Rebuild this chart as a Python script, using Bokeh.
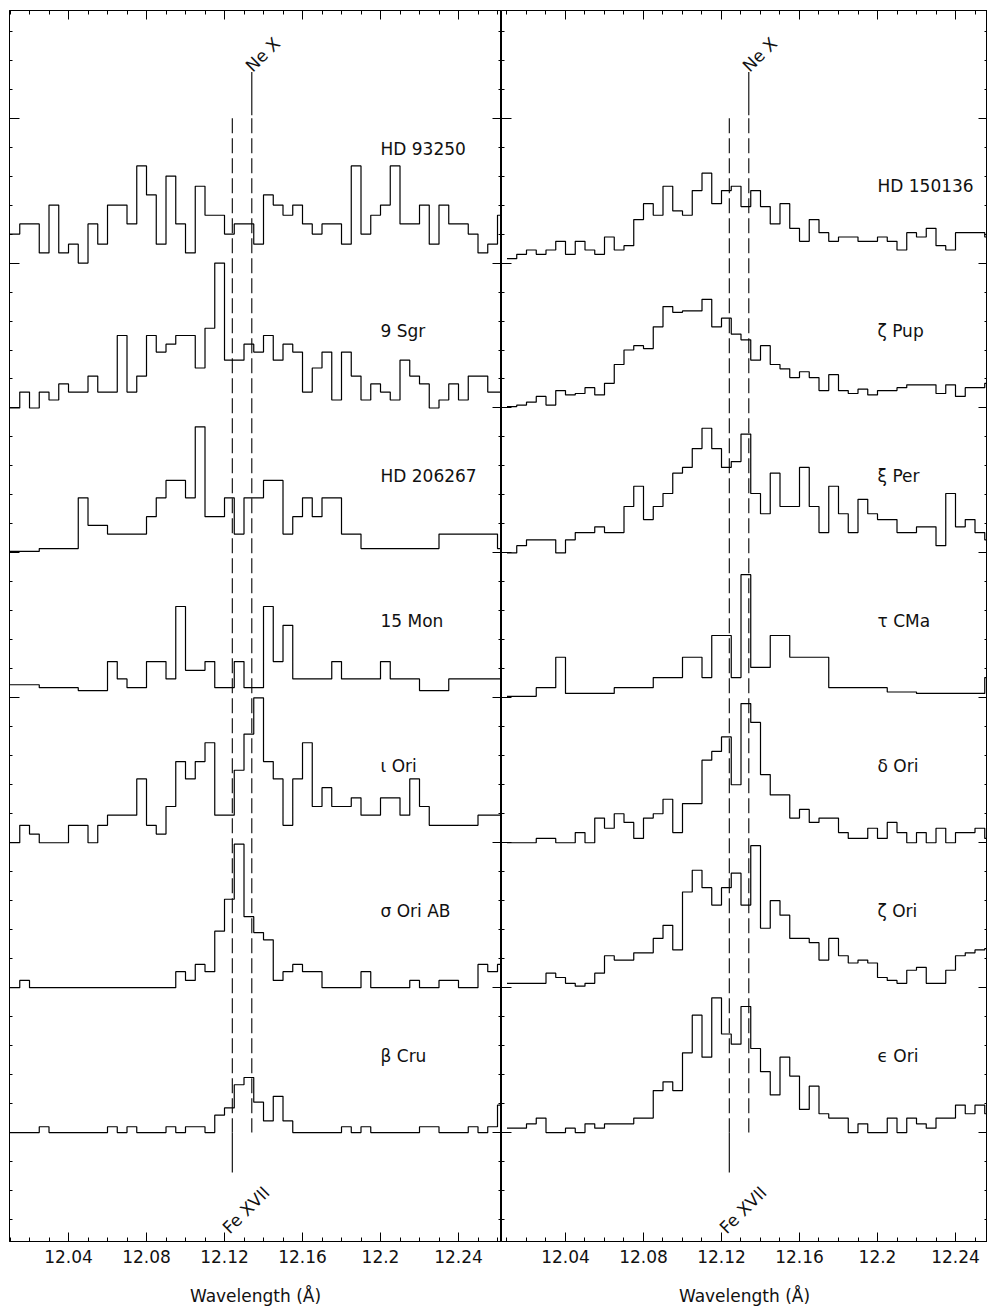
import numpy as np
from bokeh.plotting import figure
from bokeh.layouts import row
from bokeh.models import Range1d, FixedTicker, LinearAxis
from bokeh.core.properties import value
from bokeh.embed import file_html
from bokeh.resources import INLINE

# ---------------- data ----------------
bin_start = 12.01      # wavelength of the first bin edge (Angstrom)
bin_width = 0.005      # bin width (Angstrom)
fe17_wl = 12.124       # Fe XVII line
ne10_wl = 12.134       # Ne X line
line_names = ["Fe XVII", "Ne X"]

x_tick_labels = ["12.04", "12.08", "12.12", "12.16", "12.2", "12.24"]

left_names = ["HD 93250", "9 Sgr", "HD 206267", "15 Mon", "ι Ori", "σ Ori AB", "β Cru"]
right_names = ["HD 150136", "ζ Pup", "ξ Per", "τ CMa", "δ Ori", "ζ Ori", "ϵ Ori"]

# left panel: normalised flux per bin (51 bins, the last one only just visible)
hd93250 = [0.20, 0.27, 0.27, 0.07, 0.40, 0.07, 0.13, 0.00, 0.27, 0.13, 0.40, 0.40, 0.27, 0.67, 0.47,
           0.13, 0.60, 0.27, 0.07, 0.53, 0.33, 0.33, 0.20, 0.27, 0.27, 0.13, 0.47, 0.40, 0.33, 0.40,
           0.27, 0.20, 0.27, 0.27, 0.13, 0.67, 0.20, 0.33, 0.40, 0.67, 0.27, 0.27, 0.40, 0.13, 0.40,
           0.27, 0.27, 0.20, 0.07, 0.13, 0.33]
sgr9 = [0.00, 0.11, 0.00, 0.11, 0.055, 0.166, 0.11, 0.11, 0.22, 0.11, 0.11, 0.50, 0.11, 0.22, 0.50,
        0.386, 0.44, 0.50, 0.50, 0.276, 0.55, 1.00, 0.33, 0.33, 0.44, 0.386, 0.50, 0.33, 0.44, 0.386,
        0.11, 0.276, 0.386, 0.055, 0.386, 0.22, 0.055, 0.166, 0.11, 0.055, 0.33, 0.22, 0.166, 0.00,
        0.055, 0.166, 0.055, 0.22, 0.22, 0.11, 0.11]
hd206267 = [0.01, 0.01, 0.01, 0.03, 0.03, 0.03, 0.03, 0.38, 0.19, 0.19, 0.13, 0.13, 0.13, 0.13, 0.25,
            0.38, 0.50, 0.50, 0.38, 0.87, 0.25, 0.25, 0.38, 0.13, 0.38, 0.38, 0.50, 0.50, 0.13, 0.25,
            0.38, 0.25, 0.38, 0.38, 0.13, 0.13, 0.03, 0.03, 0.03, 0.03, 0.03, 0.03, 0.03, 0.03, 0.13,
            0.13, 0.13, 0.13, 0.13, 0.13, 0.03]
mon15 = [0.09, 0.09, 0.09, 0.07, 0.07, 0.07, 0.07, 0.05, 0.05, 0.05, 0.25, 0.13, 0.07, 0.07, 0.25,
         0.25, 0.13, 0.63, 0.19, 0.19, 0.25, 0.07, 0.07, 0.25, 0.07, 0.07, 0.63, 0.25, 0.50, 0.13,
         0.13, 0.13, 0.13, 0.25, 0.13, 0.13, 0.13, 0.13, 0.25, 0.13, 0.13, 0.13, 0.05, 0.05, 0.05,
         0.13, 0.13, 0.13, 0.13, 0.13, 0.13]
iota_ori = [0.00, 0.12, 0.06, 0.00, 0.00, 0.00, 0.12, 0.12, 0.00, 0.12, 0.19, 0.19, 0.19, 0.44, 0.12,
            0.06, 0.25, 0.56, 0.44, 0.56, 0.69, 0.19, 0.19, 0.50, 0.75, 1.00, 0.56, 0.44, 0.12, 0.44,
            0.69, 0.25, 0.38, 0.25, 0.25, 0.31, 0.19, 0.19, 0.31, 0.31, 0.19, 0.44, 0.25, 0.12, 0.12,
            0.12, 0.12, 0.12, 0.19, 0.19, 0.19]
sigma_ori = [0.00, 0.05, 0.00, 0.00, 0.00, 0.00, 0.00, 0.00, 0.00, 0.00, 0.00, 0.00, 0.00, 0.00, 0.00,
             0.00, 0.00, 0.11, 0.05, 0.16, 0.11, 0.39, 0.61, 0.99, 0.49, 0.38, 0.33, 0.05, 0.11, 0.16,
             0.11, 0.11, 0.00, 0.00, 0.00, 0.00, 0.11, 0.00, 0.00, 0.00, 0.00, 0.05, 0.00, 0.00, 0.05,
             0.05, 0.00, 0.00, 0.16, 0.11, 0.16]
beta_cru = [0.00, 0.00, 0.00, 0.04, 0.00, 0.00, 0.00, 0.00, 0.00, 0.00, 0.04, 0.00, 0.04, 0.00, 0.00,
            0.00, 0.04, 0.00, 0.04, 0.04, 0.00, 0.12, 0.17, 0.33, 0.38, 0.21, 0.08, 0.25, 0.08, 0.00,
            0.00, 0.00, 0.00, 0.00, 0.04, 0.00, 0.04, 0.00, 0.00, 0.00, 0.00, 0.00, 0.04, 0.04, 0.00,
            0.00, 0.00, 0.04, 0.00, 0.04, 0.19]

# right panel: normalised flux per bin (50 bins)
hd150136 = [0.03, 0.06, 0.09, 0.06, 0.09, 0.15, 0.06, 0.15, 0.09, 0.06,
            0.18, 0.09, 0.12, 0.30, 0.41, 0.33, 0.53, 0.36, 0.33, 0.50,
            0.62, 0.41, 0.50, 0.53, 0.39, 0.50, 0.39, 0.27, 0.41, 0.24,
            0.15, 0.30, 0.21, 0.15, 0.18, 0.18, 0.15, 0.15, 0.18, 0.15,
            0.09, 0.21, 0.18, 0.24, 0.12, 0.09, 0.21, 0.21, 0.21, 0.18]
zeta_pup = [0.01, 0.02, 0.04, 0.08, 0.02, 0.12, 0.09, 0.10, 0.14, 0.09,
            0.17, 0.30, 0.40, 0.43, 0.41, 0.56, 0.70, 0.66, 0.67, 0.67,
            0.75, 0.56, 0.62, 0.51, 0.47, 0.33, 0.43, 0.30, 0.27, 0.21,
            0.25, 0.21, 0.12, 0.23, 0.12, 0.10, 0.13, 0.09, 0.12, 0.12,
            0.14, 0.16, 0.16, 0.16, 0.10, 0.16, 0.08, 0.14, 0.14, 0.17]
xi_per = [0.00, 0.05, 0.09, 0.09, 0.09, 0.00, 0.09, 0.14, 0.14, 0.18,
          0.14, 0.14, 0.32, 0.46, 0.23, 0.32, 0.41, 0.55, 0.59, 0.72,
          0.86, 0.72, 0.59, 0.63, 0.82, 0.41, 0.27, 0.55, 0.32, 0.32,
          0.59, 0.32, 0.14, 0.46, 0.27, 0.14, 0.37, 0.27, 0.23, 0.23,
          0.14, 0.14, 0.18, 0.18, 0.05, 0.41, 0.18, 0.23, 0.14, 0.09]
tau_cma = [0.01, 0.01, 0.01, 0.07, 0.07, 0.28, 0.03, 0.03, 0.03, 0.03,
           0.03, 0.07, 0.07, 0.07, 0.07, 0.14, 0.14, 0.14, 0.28, 0.28,
           0.14, 0.43, 0.43, 0.14, 0.85, 0.21, 0.21, 0.43, 0.43, 0.28,
           0.28, 0.28, 0.28, 0.07, 0.07, 0.07, 0.07, 0.07, 0.07, 0.04,
           0.04, 0.04, 0.03, 0.03, 0.03, 0.03, 0.03, 0.03, 0.03, 0.14]
delta_ori = [0.00, 0.00, 0.00, 0.03, 0.03, 0.00, 0.00, 0.07, 0.00, 0.17,
             0.10, 0.20, 0.14, 0.03, 0.17, 0.20, 0.30, 0.07, 0.27, 0.27,
             0.57, 0.63, 0.73, 0.40, 0.96, 0.83, 0.47, 0.33, 0.33, 0.17,
             0.23, 0.14, 0.17, 0.17, 0.07, 0.03, 0.03, 0.10, 0.03, 0.14,
             0.07, 0.00, 0.07, 0.00, 0.10, 0.00, 0.07, 0.07, 0.10, 0.03]
zeta_ori = [0.03, 0.03, 0.03, 0.03, 0.10, 0.07, 0.03, 0.01, 0.03, 0.10,
            0.22, 0.19, 0.19, 0.24, 0.24, 0.34, 0.43, 0.26, 0.66, 0.81,
            0.69, 0.57, 0.69, 0.79, 0.57, 0.98, 0.41, 0.60, 0.50, 0.34,
            0.34, 0.31, 0.19, 0.34, 0.22, 0.17, 0.19, 0.17, 0.07, 0.05,
            0.03, 0.12, 0.14, 0.03, 0.03, 0.12, 0.22, 0.24, 0.26, 0.27]
eps_ori = [0.03, 0.03, 0.06, 0.10, 0.00, 0.00, 0.03, 0.00, 0.06, 0.03,
           0.06, 0.06, 0.06, 0.10, 0.10, 0.29, 0.35, 0.29, 0.55, 0.81,
           0.52, 0.93, 0.68, 0.61, 0.87, 0.58, 0.42, 0.26, 0.52, 0.39,
           0.16, 0.32, 0.13, 0.10, 0.10, 0.00, 0.06, 0.00, 0.00, 0.10,
           0.00, 0.10, 0.06, 0.03, 0.10, 0.10, 0.19, 0.13, 0.19, 0.13]

left_series = [hd93250, sgr9, hd206267, mon15, iota_ori, sigma_ori, beta_cru]
right_series = [hd150136, zeta_pup, xi_per, tau_cma, delta_ori, zeta_ori, eps_ori]

# ---------------- layout / style ----------------
FONT = "DejaVu Sans"
FS = "17px"
H = 1308
Y0, Y1 = -0.7517, 7.7428
LABEL_X = 12.20
left_label_raise = [0.79, 0.53, 0.53, 0.53, 0.53, 0.53, 0.53]
right_label_raise = [0.53] * 7

x_major = [float(s) for s in x_tick_labels]
x_minor = [round(12.0 + 0.01 * i, 2) for i in range(28)]
y_major = list(range(0, 8))
y_minor = [round(-0.6 + 0.2 * i, 1) for i in range(42)]


def hide_labels(ax):
    ax.major_label_text_color = None
    ax.major_label_standoff = 0
    ax.axis_label = None


def tick_style(ax, major_in, minor_in):
    ax.major_tick_in = major_in
    ax.major_tick_out = 0
    ax.minor_tick_in = minor_in
    ax.minor_tick_out = 0
    ax.axis_line_color = "black"
    ax.major_tick_line_color = "black"
    ax.minor_tick_line_color = "black"


def make_panel(xr, width, border_left, names, series, raises):
    p = figure(width=width, height=H, x_range=Range1d(*xr), y_range=Range1d(Y0, Y1),
               output_backend="svg", toolbar_location=None,
               min_border_left=border_left, min_border_right=0,
               min_border_top=10, min_border_bottom=66)
    p.xgrid.visible = False
    p.ygrid.visible = False
    p.outline_line_color = "black"
    p.background_fill_color = "white"
    p.border_fill_color = "white"

    xt = FixedTicker(ticks=x_major, minor_ticks=x_minor)
    yt = FixedTicker(ticks=y_major, minor_ticks=y_minor)

    xa = p.xaxis[0]
    xa.ticker = xt
    tick_style(xa, 9, 4)
    xa.major_label_overrides = {v: s for v, s in zip(x_major, x_tick_labels)}
    xa.major_label_text_font = FONT
    xa.major_label_text_font_size = FS
    xa.major_label_text_color = "#111111"
    xa.major_label_standoff = 8
    xa.axis_label = "Wavelength (Å)"
    xa.axis_label_text_font = FONT
    xa.axis_label_text_font_size = FS
    xa.axis_label_text_font_style = "normal"
    xa.axis_label_text_color = "#111111"
    xa.axis_label_standoff = 20

    ya = p.yaxis[0]
    ya.ticker = yt
    tick_style(ya, 10, 3)
    hide_labels(ya)

    top = LinearAxis(ticker=FixedTicker(ticks=x_major, minor_ticks=x_minor))
    tick_style(top, 9, 4)
    hide_labels(top)
    p.add_layout(top, "above")

    ra = LinearAxis(ticker=FixedTicker(ticks=y_major, minor_ticks=y_minor))
    tick_style(ra, 9, 3)
    hide_labels(ra)
    p.add_layout(ra, "right")

    n_sp = len(series)
    for i, vals in enumerate(series):
        off = n_sp - 1 - i
        edges = [bin_start + bin_width * k for k in range(len(vals) + 1)]
        ys = [v + off for v in vals] + [vals[-1] + off]
        p.step(x=edges, y=ys, mode="after", line_color="black", line_width=1.2)

    # line markers
    p.line([fe17_wl, fe17_wl], [7.0, 0.0], line_color="black", line_width=1.1, line_dash="15 5")
    p.line([fe17_wl, fe17_wl], [0.0, -0.276], line_color="black", line_width=1.1)
    p.line([ne10_wl, ne10_wl], [7.318, 7.02], line_color="black", line_width=1.1)
    p.line([ne10_wl, ne10_wl], [7.0, 0.0], line_color="black", line_width=1.1, line_dash="15 5")

    p.text(x=[ne10_wl - 0.0017], y=[7.34], text=[line_names[1]], angle=45, angle_units="deg",
           text_font=value(FONT), text_font_size=FS, text_align="left",
           text_baseline="alphabetic", text_color="#111111")
    p.text(x=[fe17_wl - 0.0035], y=[-0.676], text=[line_names[0]], angle=45, angle_units="deg",
           text_font=value(FONT), text_font_size=FS, text_align="left",
           text_baseline="alphabetic", text_color="#111111")

    ly = [n_sp - 1 - i + raises[i] for i in range(n_sp)]
    p.text(x=[LABEL_X] * n_sp, y=ly, text=names, text_font=value(FONT), text_font_size=FS,
           text_align="left", text_baseline="middle", text_color="#111111")
    return p


left = make_panel((12.00974, 12.26205), 501, 9, left_names, left_series, left_label_raise)
right = make_panel((12.00718, 12.25641), 486, 0, right_names, right_series, right_label_raise)

layout = row(left, right, spacing=0)
open("out.html", "w").write(file_html(layout, INLINE))
